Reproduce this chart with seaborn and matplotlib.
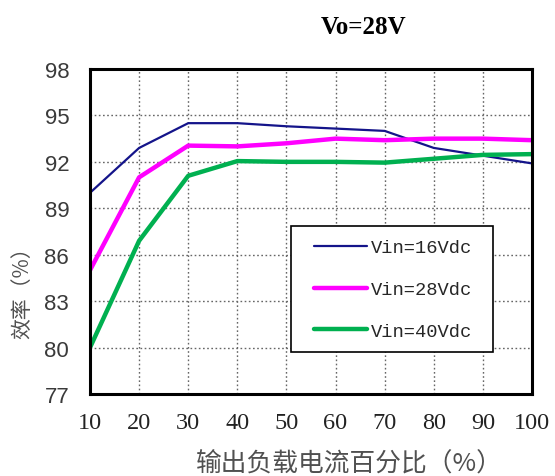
# Efficiency vs load curves, Vo=28V
import numpy as np
import pandas as pd
import matplotlib
matplotlib.use('Agg')
import matplotlib.pyplot as plt
import seaborn as sns
from matplotlib.patches import Rectangle

# DATA ------------------------------------------------------------------------
load_pct = [10, 20, 30, 40, 50, 60, 70, 80, 90, 100]
eff_16v = [90.0, 92.9, 94.5, 94.5, 94.3, 94.15, 94.0, 92.9, 92.4, 91.9]
eff_28v = [85.0, 91.0, 93.05, 93.0, 93.2, 93.5, 93.4, 93.5, 93.5, 93.4]
eff_40v = [80.0, 86.9, 91.1, 92.05, 92.0, 92.0, 91.95, 92.2, 92.45, 92.5]
series_names = ['Vin=16Vdc', 'Vin=28Vdc', 'Vin=40Vdc']
y_ticks = [77, 80, 83, 86, 89, 92, 95, 98]
x_ticks = [10, 20, 30, 40, 50, 60, 70, 80, 90, 100]

df = pd.DataFrame({
    'load': load_pct * 3,
    'eff': eff_16v + eff_28v + eff_40v,
    'series': [n for n in series_names for _ in load_pct],
})

# STYLE -----------------------------------------------------------------------
sns.set_style('white')
plt.rcParams['font.family'] = ['Noto Sans CJK SC', 'DejaVu Sans']

colors = {'Vin=16Vdc': '#14148a', 'Vin=28Vdc': '#ff00ff', 'Vin=40Vdc': '#00b050'}
widths = {'Vin=16Vdc': 1.6, 'Vin=28Vdc': 3.2, 'Vin=40Vdc': 3.2}

fig = plt.figure(figsize=(5.55, 4.77), dpi=100)
ax = fig.add_axes([90 / 555, 1 - 395 / 477, 442 / 555, 325 / 477])

for name in series_names:
    sub = df[df['series'] == name]
    sns.lineplot(data=sub, x='load', y='eff', ax=ax, color=colors[name],
                 linewidth=widths[name], label=name, solid_joinstyle='round',
                 solid_capstyle='round')

ax.set_xlim(10, 100)
ax.set_ylim(77, 98)
ax.set_xticks(x_ticks)
ax.set_yticks(y_ticks)
ax.set_xticklabels([str(v) for v in x_ticks], family=['Liberation Serif'],
                   fontsize=17.5, color='#222222')
ax.set_yticklabels([str(v) for v in y_ticks], family=['Liberation Sans'],
                   fontsize=16, color='#3a3a3a')
ax.tick_params(axis='both', direction='in', length=4, width=1, color='#555555')
ax.tick_params(axis='x', pad=13)
ax.tick_params(axis='y', pad=15)

ax.grid(True, linestyle=(0, (1.2, 1.8)), color='#666666', linewidth=1.0)
for s in ax.spines.values():
    s.set_color('black')
    s.set_linewidth(2.2)

ax.set_xlabel('输出负载电流百分比（%）', fontsize=18.5, color='#505050')
ax.xaxis.set_label_coords((349 - 90) / 442, -0.17)
ax.set_ylabel('效率（%）', fontsize=15, color='#505050')
ax.yaxis.set_label_coords(-0.128, 0.33)

fig.text(364 / 555, 1 - 27 / 477, 'Vo=28V', family=['Liberation Serif'],
         fontsize=18, fontweight='bold', ha='center', va='center', color='black')

# legend frame drawn separately so the inner padding can match
ax.add_patch(Rectangle((201 / 442, 42 / 325), 202 / 442, 126 / 325,
                       transform=ax.transAxes, facecolor='white',
                       edgecolor='black', linewidth=1.2, zorder=4))
leg = ax.legend(loc='center', bbox_to_anchor=((393 - 90) / 442, (395 - 290.5) / 325),
                frameon=False, prop={'family': 'Liberation Mono', 'size': 13.5},
                handlelength=2.85, handletextpad=0.2, labelspacing=1.32,
                borderpad=0, borderaxespad=0)
leg.set_zorder(5)

fig.savefig('out.png', dpi=100)
